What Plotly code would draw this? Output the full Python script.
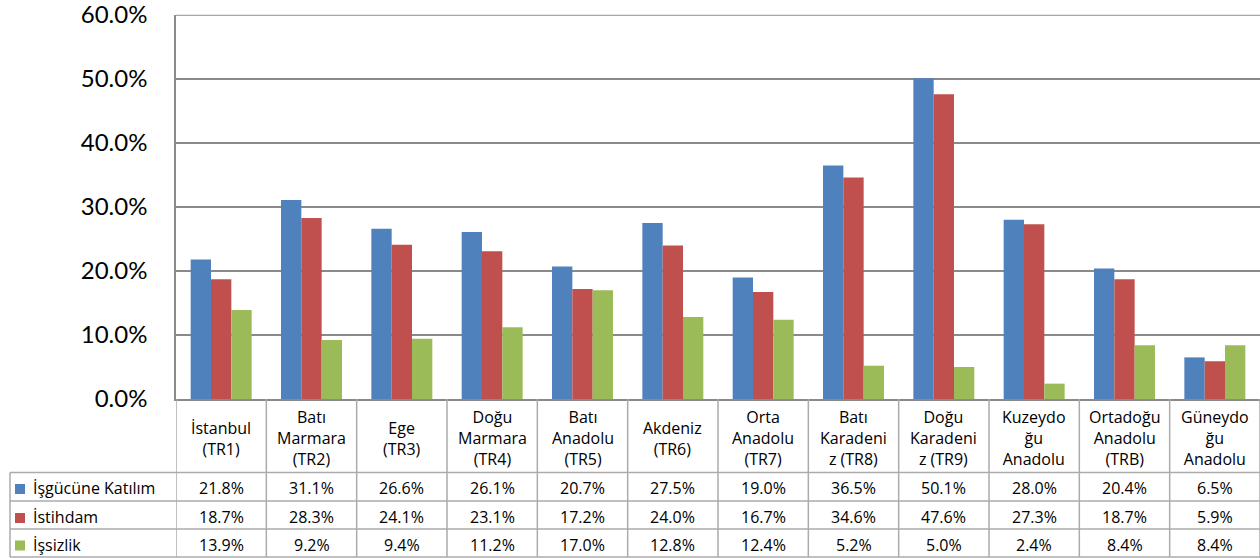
import plotly.graph_objects as go

W, H = 1260, 558

categories = ["İstanbul<br>(TR1)", "Batı<br>Marmara<br>(TR2)", "Ege<br>(TR3)",
              "Doğu<br>Marmara<br>(TR4)", "Batı<br>Anadolu<br>(TR5)", "Akdeniz<br>(TR6)",
              "Orta<br>Anadolu<br>(TR7)", "Batı<br>Karadeni<br>z (TR8)",
              "Doğu<br>Karadeni<br>z (TR9)", "Kuzeydo<br>ğu<br>Anadolu",
              "Ortadoğu<br>Anadolu<br>(TRB)", "Güneydo<br>ğu<br>Anadolu"]
series_names = ["İşgücüne Katılım", "İstihdam", "İşsizlik"]
isgucu = [21.8, 31.1, 26.6, 26.1, 20.7, 27.5, 19.0, 36.5, 50.1, 28.0, 20.4, 6.5]
istihdam = [18.7, 28.3, 24.1, 23.1, 17.2, 24.0, 16.7, 34.6, 47.6, 27.3, 18.7, 5.9]
issizlik = [13.9, 9.2, 9.4, 11.2, 17.0, 12.8, 12.4, 5.2, 5.0, 2.4, 8.4, 8.4]
y_ticks = [0.0, 0.1, 0.2, 0.3, 0.4, 0.5, 0.6]
colors = ["#4F81BD", "#C0504D", "#9BBB59"]

series_values = [isgucu, istihdam, issizlik]
xs = list(range(len(categories)))

def py(p):
    return 1 - p / H

# axis geometry: 0% at y=399 px, 60% at y=15 px; tiny headroom above 60%
Y_MAX = 0.6005
y_top_px = 399 - Y_MAX / 0.6 * (399 - 15)

fig = go.Figure()
for name, vals, col in zip(series_names, series_values, colors):
    fig.add_trace(go.Bar(x=xs, y=[v / 100 for v in vals], name=name,
                         marker=dict(color=col, line=dict(width=0))))

TEXT_FONT = dict(family="Open Sans", size=16, color="#000000")
LINE_COL = "#ababab"
GRID_COL = "#8a8a8a"

shapes = []
annotations = []

# top gridline (edge gridline is clipped by plotly)
shapes.append(dict(type="line", xref="x", yref="y", x0=-0.5, x1=11.5,
                   y0=y_ticks[-1], y1=y_ticks[-1],
                   line=dict(color=GRID_COL, width=1.5), layer="below"))

# table row lines
row_lines = [472.5, 501, 529, 557]
for yl in row_lines:
    shapes.append(dict(type="line", xref="paper", yref="paper", x0=10 / W, x1=1,
                       y0=py(yl), y1=py(yl), line=dict(color=LINE_COL, width=1.5)))
# left edge of the series column
shapes.append(dict(type="line", xref="paper", yref="paper", x0=10 / W, x1=10 / W,
                   y0=py(557), y1=py(472.5), line=dict(color=LINE_COL, width=1.5)))
# category boundary lines
for i in range(len(categories) + 1):
    shapes.append(dict(type="line", xref="x", yref="paper", x0=i - 0.5, x1=i - 0.5,
                       y0=py(557), y1=py(399), line=dict(color=LINE_COL, width=1.5)))

# header labels
for i, c in enumerate(categories):
    annotations.append(dict(x=i, y=py(438), xref="x", yref="paper", text=c,
                            showarrow=False, xanchor="center", yanchor="middle",
                            font=TEXT_FONT, align="center"))

row_centers = [488, 517, 544.5]
for r, (name, vals, col) in enumerate(zip(series_names, series_values, colors)):
    yc = row_centers[r]
    shapes.append(dict(type="rect", xref="paper", yref="paper", x0=15 / W, x1=25 / W,
                       y0=py(yc + 6), y1=py(yc - 4), fillcolor=col,
                       line=dict(width=0)))
    annotations.append(dict(x=31 / W, y=py(yc), xref="paper", yref="paper", text=name,
                            showarrow=False, xanchor="left", yanchor="middle",
                            font=TEXT_FONT))
    for i, v in enumerate(vals):
        annotations.append(dict(x=i, y=py(yc), xref="x", yref="paper",
                                text=f"{v:.1f}%", showarrow=False,
                                xanchor="center", yanchor="middle", font=TEXT_FONT))

fig.update_layout(
    width=W, height=H,
    margin=dict(l=0, r=0, t=0, b=0, autoexpand=False),
    paper_bgcolor="white", plot_bgcolor="white",
    barmode="group", bargap=0.325, bargroupgap=0,
    showlegend=False,
    xaxis=dict(domain=[176 / W, 1], range=[-0.5, 11.5], showticklabels=False,
               showgrid=False, zeroline=False, showline=True, automargin=False,
               linecolor=GRID_COL, linewidth=1.5, fixedrange=True),
    yaxis=dict(domain=[py(399), py(y_top_px)], range=[0, Y_MAX],
               tickmode="array", tickvals=y_ticks,
               tickformat=".1%", showgrid=True, gridcolor=GRID_COL, gridwidth=1.5,
               zeroline=False, showline=True, linecolor=GRID_COL, linewidth=1.5,
               automargin=False, ticklabeloverflow="allow",
               tickfont=dict(family="Lato", size=24, color="#000000"),
               ticklabelstandoff=22, fixedrange=True),
    shapes=shapes,
    annotations=annotations,
)

fig.write_html("out.html")
